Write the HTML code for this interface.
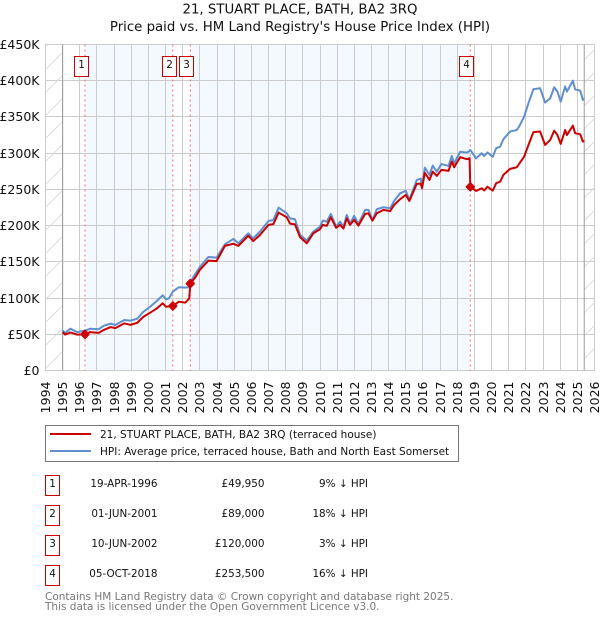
<!DOCTYPE html>
<html lang="en">
<head>
<meta charset="utf-8">
<title>21, STUART PLACE, BATH, BA2 3RQ</title>
<style>
html,body{margin:0;padding:0;background:#fff;width:600px;height:620px;overflow:hidden}
svg{display:block}
text{font-family:"DejaVu Sans","Liberation Sans",sans-serif;fill:#111}
.tick{font-size:12.5px}
.title{font-size:13.3px;text-anchor:middle}
.leg{font-size:10.5px}
.tbl{font-size:10.4px;text-anchor:end}
.num{font-size:10.4px;text-anchor:middle}
.foot{font-size:10.5px;fill:#777}
</style>
</head>
<body>
<svg id="chart" width="600" height="620" viewBox="0 0 600 620" xmlns="http://www.w3.org/2000/svg">
<defs>
<pattern id="hatch" patternUnits="userSpaceOnUse" width="23" height="23">
<path d="M-2 25 L25 -2 M-2 2 L2 -2 M21 25 L25 21" stroke="#d8d8d8" stroke-width="0.9" fill="none"/>
</pattern>
</defs>
<g id="bands"></g>
<g id="grid"></g>
<g id="hatches"></g>
<g id="sale-lines"></g>
<g id="series"></g>
<g id="markers"></g>
<g id="boxes"></g>
<g id="y-labels"></g>
<g id="x-labels"></g>

<text class="title" x="300" y="13.5">21, STUART PLACE, BATH, BA2 3RQ</text>
<text class="title" x="300" y="31">Price paid vs. HM Land Registry's House Price Index (HPI)</text>

<g>
<rect x="45.5" y="425.5" width="413" height="36" fill="#fff" stroke="#777" stroke-width="1"/>
<line x1="50" y1="434" x2="91" y2="434" stroke="#cc0000" stroke-width="2"/>
<text class="leg" x="100" y="438">21, STUART PLACE, BATH, BA2 3RQ (terraced house)</text>
<line x1="50" y1="451" x2="91" y2="451" stroke="#5f8fd0" stroke-width="2"/>
<text class="leg" x="100" y="455">HPI: Average price, terraced house, Bath and North East Somerset</text>
</g>

<g>
<g>
<rect x="45.5" y="475.5" width="14" height="20" fill="#fff" stroke="#cc0000"/>
<text class="num" x="52.5" y="487">1</text>
<text class="tbl" x="157.5" y="487">19-APR-1996</text>
<text class="tbl" x="264.5" y="487">£49,950</text>
<text class="tbl" x="368" y="487">9% ↓ HPI</text>
</g>
<g>
<rect x="45.5" y="505.5" width="14" height="20" fill="#fff" stroke="#cc0000"/>
<text class="num" x="52.5" y="517">2</text>
<text class="tbl" x="157.5" y="517">01-JUN-2001</text>
<text class="tbl" x="264.5" y="517">£89,000</text>
<text class="tbl" x="368" y="517">18% ↓ HPI</text>
</g>
<g>
<rect x="45.5" y="535.5" width="14" height="20" fill="#fff" stroke="#cc0000"/>
<text class="num" x="52.5" y="547">3</text>
<text class="tbl" x="157.5" y="547">10-JUN-2002</text>
<text class="tbl" x="264.5" y="547">£120,000</text>
<text class="tbl" x="368" y="547">3% ↓ HPI</text>
</g>
<g>
<rect x="45.5" y="565.5" width="14" height="20" fill="#fff" stroke="#cc0000"/>
<text class="num" x="52.5" y="577">4</text>
<text class="tbl" x="157.5" y="577">05-OCT-2018</text>
<text class="tbl" x="264.5" y="577">£253,500</text>
<text class="tbl" x="368" y="577">16% ↓ HPI</text>
</g>
</g>

<text class="foot" x="45" y="600">Contains HM Land Registry data © Crown copyright and database right 2025.</text>
<text class="foot" x="45" y="610">This data is licensed under the Open Government Licence v3.0.</text>
</svg>

<script>
var yearTicks = [1994,1995,1996,1997,1998,1999,2000,2001,2002,2003,2004,2005,2006,2007,2008,2009,2010,2011,2012,2013,2014,2015,2016,2017,2018,2019,2020,2021,2022,2023,2024,2025,2026];
var priceTicks = [0,50,100,150,200,250,300,350,400,450];
var priceTickLabels = ['£0','£50K','£100K','£150K','£200K','£250K','£300K','£350K','£400K','£450K'];
var dataStart = 1995;
var dataEnd = 2025.4;
var dates = [1995,1995.15,1995.45,1995.85,1996.3,1996.6,1997.1,1997.4,1997.8,1998.07,1998.6,1998.95,1999.35,1999.7,2000.1,2000.5,2000.83,2001.03,2001.2,2001.42,2001.77,2002.15,2002.38,2002.44,2002.75,2003,2003.49,2003.97,2004.46,2004.95,2005.24,2005.82,2006.11,2006.5,2007,2007.28,2007.59,2008.06,2008.25,2008.54,2008.84,2009.23,2009.61,2010,2010.16,2010.39,2010.63,2010.94,2011.17,2011.37,2011.56,2011.75,2011.99,2012.24,2012.63,2012.82,2013.06,2013.31,2013.7,2014.09,2014.32,2014.67,2015,2015.21,2015.64,2015.87,2015.95,2016.11,2016.38,2016.57,2016.81,2017.08,2017.49,2017.68,2017.82,2018.17,2018.56,2018.72,2018.76,2019.1,2019.43,2019.57,2019.76,2020.07,2020.27,2020.5,2020.69,2021.08,2021.47,2021.63,2021.9,2022.15,2022.44,2022.83,2023.12,2023.42,2023.65,2023.84,2024.03,2024.29,2024.39,2024.74,2024.87,2025.17,2025.32,2025.4];
var hpiValues = [55,52,57.7,53,55,57.6,57,61.9,64.7,62.8,69.7,68.8,71.5,81,88,96.3,103.8,98.2,99.7,108.8,115,114.4,115,122,134,143,156.7,155.8,174.2,181.6,175.6,189.4,182.5,191.7,206.4,207.8,224.8,217,210,208.8,187,179.5,191.7,198.6,206.9,205.5,216,198.6,205.5,198.6,214.7,203,213.4,202.3,221.7,221.7,207.8,222.6,225.4,224,234,244.7,248,235.5,263,265,253.8,280,270,282.8,274.5,285,282.4,296,285.9,302,300.8,303,304.5,292.8,300,296,301,295,306.8,309,319.3,329.8,332,337.7,350.5,369,388.3,389.7,369.8,375.9,391,385,371.2,392,385,400,388,386.4,373.6,375];
var priceValues = [53,49.5,52.5,49.5,49.95,53,52,56,59.9,58.5,65,63,65.9,74,79.8,85.8,92.8,88,88.5,89,95,93.7,99.6,120,129,139,151.6,151,172,175,172,186,178.6,187,201,202,218,211.5,202.8,201.7,183.9,175.6,189.4,195,201,199.6,211.5,197,201,196,210,201,208,200,216,217,206.8,217,221.7,220,228.5,236.5,242.4,234,257.6,258,251.6,273,263,274.5,268.6,277,275.5,288.4,280.6,294.5,291.7,293,253.5,247.9,251.6,248.5,253.8,248.3,258.5,260.7,270,278.3,280.6,286,295.3,311.4,329,329.9,311.4,318.3,331,325,312.8,332,325,338,327.6,326,316,317];
var saleLabels = ['1','2','3','4'];
var saleDates = [1996.3,2001.42,2002.44,2018.76];
var salePrices = [49.95,89,120,253.5];

var NS = 'http://www.w3.org/2000/svg';
var plotLeft = 45.5, plotRight = 594.5, plotTop = 44.5, plotBottom = 370.5;
function xScale(year){ return plotLeft + (year - 1994) * (plotRight - plotLeft) / 32; }
function yScale(value){ return plotBottom - value * (plotBottom - plotTop) / 450; }
function make(tag, attrs, parent){
  var el = document.createElementNS(NS, tag);
  for (var k in attrs) el.setAttribute(k, attrs[k]);
  document.getElementById(parent).appendChild(el);
  return el;
}
var i, el;

for (i = 0; i < saleDates.length - 1; i += 2) {
  el = make('rect', {x: xScale(saleDates[i]), y: plotTop, width: xScale(saleDates[i+1]) - xScale(saleDates[i]), height: plotBottom - plotTop, fill: '#f4f8ff'}, 'bands');
  
  
}
priceTicks.forEach(function(v, idx){
  var y = Math.round(yScale(v) - 0.5) + 0.5;
  var line = make('line', {x1: plotLeft, x2: plotRight, y1: y, y2: y, stroke: '#cccccc', 'stroke-width': 1}, 'grid');
  
  
  var label = make('text', {x: 39.5, y: y + 4.5, 'text-anchor': 'end', 'class': 'tick'}, 'y-labels');
  label.textContent = priceTickLabels[idx];
  
  
});
yearTicks.forEach(function(yr){
  var x = Math.round(xScale(yr) - 0.5) + 0.5;
  var line = make('line', {x1: x, x2: x, y1: plotTop, y2: plotBottom, stroke: '#cccccc', 'stroke-width': 1}, 'grid');
  
  
  var label = make('text', {'text-anchor': 'end', 'class': 'tick', transform: 'translate(' + (x + 4.5) + ',381.5) rotate(-90)'}, 'x-labels');
  label.textContent = String(yr);
  
  
});
el = make('rect', {x: xScale(1994), y: plotTop, width: xScale(dataStart) - xScale(1994), height: plotBottom - plotTop, fill: 'url(#hatch)'}, 'hatches');


el = make('rect', {x: xScale(dataEnd), y: plotTop, width: xScale(2026) - xScale(dataEnd), height: plotBottom - plotTop, fill: 'url(#hatch)'}, 'hatches');


el = make('line', {x1: xScale(dataStart), x2: xScale(dataStart), y1: plotTop, y2: plotBottom, stroke: '#999', 'stroke-width': 1}, 'hatches');


el = make('line', {x1: xScale(dataEnd), x2: xScale(dataEnd), y1: plotTop, y2: plotBottom, stroke: '#999', 'stroke-width': 1}, 'hatches');



saleDates.forEach(function(d, idx){
  var x = xScale(d);
  var line = make('line', {x1: x, x2: x, y1: plotTop, y2: plotBottom, stroke: '#ff6b6b', 'stroke-width': 1, 'stroke-dasharray': '2 3'}, 'sale-lines');
  
  
  var dot = make('path', {d: 'M' + x + ' ' + (yScale(salePrices[idx]) - 3.7) + 'l3.7 3.7l-3.7 3.7l-3.7 -3.7z', fill: '#cc0000', stroke: '#cc0000', 'stroke-width': 2, 'stroke-linejoin': 'round'}, 'markers');
  
  
  var box = make('rect', {x: Math.round(x) - 10.5, y: 56.5, width: 14, height: 20, fill: '#fff', stroke: '#cc0000', 'stroke-width': 1}, 'boxes');
  
  
  var txt = make('text', {x: Math.round(x) - 3.5, y: 68, 'class': 'num'}, 'boxes');
  txt.textContent = saleLabels[idx];
  
  
});

function linePoints(values){
  return values.map(function(v, j){ return xScale(dates[j]).toFixed(2) + ',' + yScale(v).toFixed(2); }).join(' ');
}
el = make('polyline', {points: linePoints(hpiValues), fill: 'none', stroke: '#5f8fd0', 'stroke-width': 2, 'stroke-linejoin': 'round'}, 'series');


el = make('polyline', {points: linePoints(priceValues), fill: 'none', stroke: '#cc0000', 'stroke-width': 2, 'stroke-linejoin': 'round'}, 'series');


</script>
</body>
</html>
